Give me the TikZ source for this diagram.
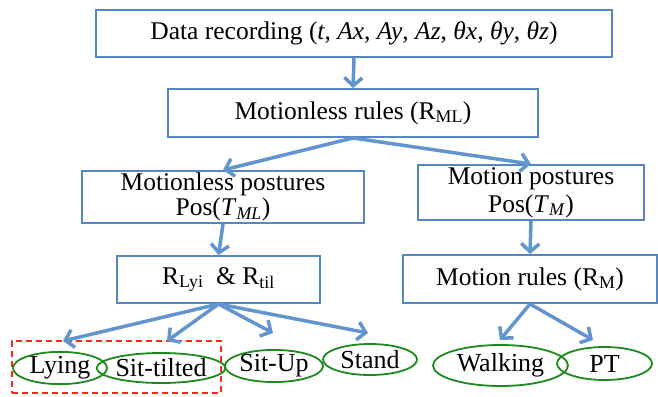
\documentclass[tikz,border=0pt]{standalone}
\usepackage{fontspec}
\setmainfont{Liberation Serif}
\usetikzlibrary{arrows.meta,shapes.geometric}
\definecolor{boxblue}{RGB}{84,135,196}
\definecolor{arrblue}{RGB}{98,148,206}
\definecolor{elgreen}{RGB}{28,138,28}
\definecolor{grpred}{RGB}{255,40,20}
\tikzset{
  box/.style={draw=boxblue, line width=2pt, fill=white, inner sep=0pt, align=center,
    font=\fontsize{25.5}{25}\selectfont},
  oval/.style={ellipse, draw=elgreen, line width=1.8pt, inner sep=0pt,
    font=\fontsize{26}{26}\selectfont},
  arr/.style={draw=arrblue, line width=3.5pt, -{Straight Barb[length=8pt,width=18pt]}},
  grpbox/.style={draw=grpred, line width=2pt, dash pattern=on 6pt off 4pt, inner sep=0pt}
}
\begin{document}
\begin{tikzpicture}[x=1pt,y=-1pt]
\useasboundingbox (0,0) rectangle (658,396);
% boxes
\node[box, minimum width=516pt, minimum height=47pt] (rec) at (354,33.5)
  {Data recording (\textit{t}, \textit{Ax}, \textit{Ay}, \textit{Az}, \textit{θx}, \textit{θy}, \textit{θz})};
\node[box, minimum width=370pt, minimum height=48pt] (rml) at (353,113)
  {Motionless rules (R\textsubscript{ML})};
\node[box, minimum width=282pt, minimum height=52pt] (mp) at (223,197)
  {Motionless postures\\Pos(\textit{T}\textsubscript{\textit{ML}})};
\node[box, minimum width=226pt, minimum height=55pt, font=\fontsize{25.5}{28}\selectfont] (mo) at (531,192.5)
  {Motion postures\\Pos(\textit{T}\textsubscript{\textit{M}})};
\node[box, minimum width=203pt, minimum height=47pt] (rb) at (218.5,279.5)
  {R\textsubscript{Lyi}\ \ \& R\textsubscript{til}};
\node[box, minimum width=254pt, minimum height=48pt] (mr) at (530,279)
  {Motion rules (R\textsubscript{M})};
% group box
\node[grpbox, minimum width=209pt, minimum height=52pt] (grp) at (116.5,367) {};
% ellipses
\node[oval, minimum width=94pt, minimum height=30pt] (lying) at (60,368) {Lying};
\node[oval, minimum width=108pt, minimum height=30pt] (sittilted) at (161,368) {Sit-tilted};
\node[oval, minimum width=94pt, minimum height=32pt] (situp) at (274,366) {Sit-Up};
\node[oval, minimum width=94pt, minimum height=31pt] (stand) at (370,359.5) {Stand};
\node[oval, minimum width=135pt, minimum height=41pt] (walking) at (500.5,365.5) {Walking};
\node[oval, minimum width=95pt, minimum height=33pt] (pt) at (604.5,363.5) {PT};
% arrow tips
\coordinate (tlying) at (63,341);
\coordinate (tsittilted) at (167,341);
\coordinate (tsitup) at (273,333);
\coordinate (tstand) at (368,333);
\coordinate (twalking) at (500,340);
\coordinate (tpt) at (593,340);
% connectors
\draw[arr] (rec.south) -- (rml.north);
\draw[arr] (rml.south) -- (mp.north);
\draw[arr] (rml.south) -- (mo.north);
\draw[arr] (mp.south) -- (rb.north);
\draw[arr] (mo.south) -- (mr.north);
\draw[arr] (rb.south) -- (tlying);
\draw[arr] (rb.south) -- (tsittilted);
\draw[arr] (rb.south) -- (tsitup);
\draw[arr] (rb.south) -- (tstand);
\draw[arr] (mr.south) -- (twalking);
\draw[arr] (mr.south) -- (tpt);
\end{tikzpicture}
\end{document}
